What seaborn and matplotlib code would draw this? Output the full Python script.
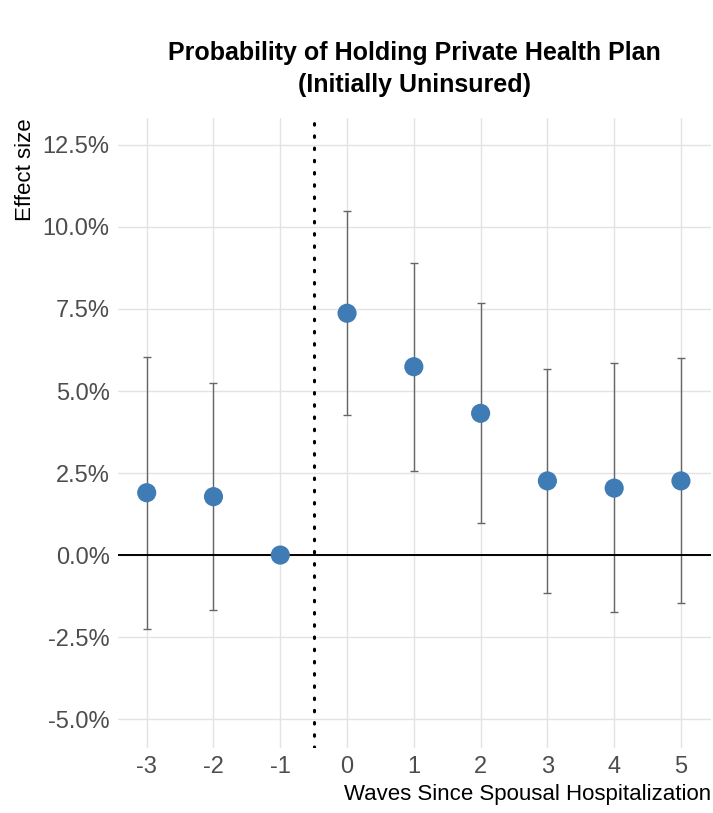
import matplotlib
matplotlib.use("Agg")
import matplotlib.pyplot as plt
import seaborn as sns
import pandas as pd
import numpy as np
from matplotlib.ticker import FuncFormatter

waves = [-3, -2, -1, 0, 1, 2, 3, 4, 5]
estimate = [1.90, 1.78, 0.00, 7.37, 5.74, 4.32, 2.26, 2.04, 2.26]
ci_low = [-2.26, -1.68, 0.00, 4.27, 2.57, 0.98, -1.16, -1.74, -1.46]
ci_high = [6.05, 5.25, 0.00, 10.49, 8.91, 7.69, 5.66, 5.86, 6.00]
y_ticks = [-5.0, -2.5, 0.0, 2.5, 5.0, 7.5, 10.0, 12.5]

df = pd.DataFrame({"wave": waves, "est": estimate, "lo": ci_low, "hi": ci_high})

sns.set_theme(style="whitegrid")
fam = ["Liberation Sans Narrow", "Liberation Sans", "DejaVu Sans"]
plt.rcParams["font.family"] = fam
plt.rcParams["axes.unicode_minus"] = False

fig = plt.figure(figsize=(7.13, 8.13), dpi=100)
ax = fig.add_axes([118/713, 1-748/813, (711-118)/713, (748-118)/813])

ax.set_facecolor("white")
ax.grid(True, color="#e3e3e3", linewidth=1.0)
for s in ax.spines.values():
    s.set_visible(False)

err = df[df["wave"] != -1]
ax.errorbar(err["wave"], err["est"], yerr=[err["est"] - err["lo"], err["hi"] - err["est"]],
            fmt="none", ecolor="#666666", elinewidth=1.0, capsize=3, capthick=1.0, zorder=2)
ax.axhline(0, color="black", linewidth=1.4, zorder=3)
ax.axvline(-0.5, color="black", linewidth=2.2, linestyle=(0, (0.5, 3.5)), dash_capstyle="round", zorder=3)
sns.scatterplot(data=df, x="wave", y="est", ax=ax, color="#3f7bb4", s=190, edgecolor="none",
                zorder=4, legend=False)

ax.set_xlim(-3.43, 5.45)
ax.set_ylim(-5.88, 13.32)
ax.set_xticks(waves)
ax.set_yticks(y_ticks)
ax.yaxis.set_major_formatter(FuncFormatter(lambda v, p: f"{v:.1f}%"))
ax.tick_params(axis="both", labelsize=17, colors="#4d4d4d", length=0, pad=6)
for lab in ax.get_xticklabels() + ax.get_yticklabels():
    lab.set_color("#4d4d4d")

ax.set_xlabel("Waves Since Spousal Hospitalization", fontsize=16, color="black", loc="right", labelpad=4)
ax.set_ylabel("Effect size", fontsize=16, color="black", loc="top", labelpad=5)

fig.text(414/713, 1-69/813, "Probability of Holding Private Health Plan\n(Initially Uninsured)",
         ha="center", va="center", fontsize=18, fontweight="bold", linespacing=1.45, color="black")

fig.savefig("out.png", dpi=100)
